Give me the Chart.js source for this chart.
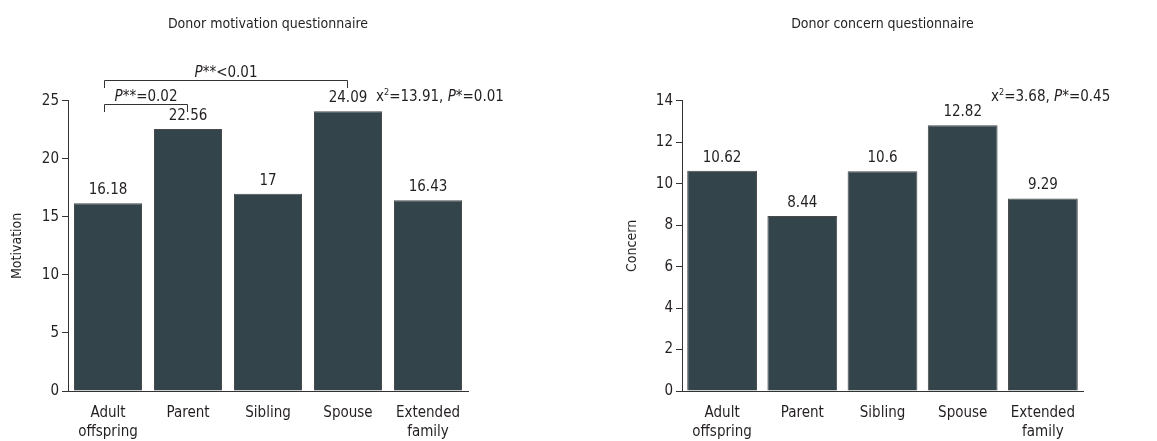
<!DOCTYPE html>
<html>
<head>
<meta charset="utf-8">
<script src="https://cdn.jsdelivr.net/npm/chart.js@4/dist/chart.umd.min.js"></script>
<style>
  body { margin:0; background:#fff; }
  #wrap { position:relative; width:1157px; height:441px; }
  #c1 { position:absolute; left:0; top:0; }
  #c2 { position:absolute; left:578px; top:0; }
</style>
</head>
<body>
<div id="wrap">
  <canvas id="c1" width="578" height="441"></canvas>
  <canvas id="c2" width="579" height="441"></canvas>
</div>
<script>
// data
const groups = [['Adult','offspring'], 'Parent', 'Sibling', 'Spouse', ['Extended','family']];
const motivation = [16.18, 22.56, 17, 24.09, 16.43];
const motivationLabels = ['16.18', '22.56', '17', '24.09', '16.43'];
const concern = [10.62, 8.44, 10.6, 12.82, 9.29];
const concernLabels = ['10.62', '8.44', '10.6', '12.82', '9.29'];
// comparisons: from/to category index, label, height in axis units
const motivationPairs = [
  { from: 0, to: 1, p: '=0.02', y: 24.75, drop: 0.7 },
  { from: 0, to: 3, p: '<0.01', y: 26.8, drop: 0.7 }
];
const motivationChi = ['13.91', '0.01'];
const concernChi = ['3.68', '0.45'];

const FONT = "'DejaVu Sans Condensed', 'Liberation Sans Narrow', sans-serif";
const INK = '#231f20';
const BAR = '#33444b';

function drawRuns(ctx, x, y, runs, size) {
  // draws a list of text pieces one after another, left aligned
  ctx.textAlign = 'left';
  ctx.textBaseline = 'alphabetic';
  runs.forEach(function(r){
    var s = r.sup ? size*0.6 : size;
    ctx.font = (r.it ? 'italic ' : '') + s + 'px ' + FONT;
    ctx.fillText(r.t, x, r.sup ? y - size*0.38 : y);
    x += ctx.measureText(r.t).width;
  });
}
function runsWidth(ctx, runs, size) {
  var w = 0;
  runs.forEach(function(r){
    var s = r.sup ? size*0.6 : size;
    ctx.font = (r.it ? 'italic ' : '') + s + 'px ' + FONT;
    w += ctx.measureText(r.t).width;
  });
  return w;
}

const extrasPlugin = {
  id: 'extras',
  afterDatasetsDraw(chart, args, opts) {
    const ctx = chart.ctx;
    const meta = chart.getDatasetMeta(0);
    const xs = chart.scales.x, ys = chart.scales.y;
    ctx.save();
    ctx.fillStyle = INK;
    // value labels over bars
    ctx.font = '15px ' + FONT;
    ctx.textAlign = 'center';
    ctx.textBaseline = 'middle';
    meta.data.forEach(function(bar, i){
      ctx.fillText(opts.labels[i], bar.x, bar.y - 13);
    });
    // brackets
    ctx.strokeStyle = '#333';
    ctx.lineWidth = 1;
    (opts.pairs || []).forEach(function(pr){
      var x1 = Math.round(xs.getPixelForValue(pr.from)) - 3.5;
      var x2 = Math.round(xs.getPixelForValue(pr.to)) - 0.5;
      var yl = Math.round(ys.getPixelForValue(pr.y)) + 0.5;
      var yd = Math.round(ys.getPixelForValue(pr.y - pr.drop));
      ctx.beginPath();
      ctx.moveTo(x1, yd); ctx.lineTo(x1, yl); ctx.lineTo(x2, yl); ctx.lineTo(x2, yd);
      ctx.stroke();
      var runs = [{t:'P', it:true}, {t:'**' + pr.p}];
      var w = runsWidth(ctx, runs, 15);
      drawRuns(ctx, (x1 + x2)/2 - w/2, yl - 4, runs, 15);
    });
    // chi-square note
    var chi = [{t:'x'}, {t:'2', sup:true}, {t:'=' + opts.chi[0] + ', '}, {t:'P', it:true}, {t:'*=' + opts.chi[1]}];
    drawRuns(ctx, chart.chartArea.right - 92, chart.chartArea.top, chi, 15);
    ctx.restore();
  }
};

function makeChart(id, values, labels, title, ytitle, ymax, step, yTitlePad, yWidth, padRight, barPct, pairs, chi) {
  return new Chart(document.getElementById(id), {
    type: 'bar',
    data: {
      labels: groups,
      datasets: [{
        data: values,
        backgroundColor: BAR,
        borderColor: '#4a4a4a',
        borderWidth: 1,
        barPercentage: barPct,
        categoryPercentage: 1
      }]
    },
    options: {
      responsive: false,
      animation: false,
      devicePixelRatio: 1,
      layout: { padding: { left: 0, right: padRight, top: 0, bottom: 0 } },
      plugins: {
        legend: { display: false },
        tooltip: { enabled: false },
        title: {
          display: true,
          text: title,
          fullSize: false,
          color: INK,
          font: { family: FONT, size: 14, weight: 'normal' },
          padding: { top: 16, bottom: 68 }
        },
        extras: { labels: labels, pairs: pairs, chi: chi }
      },
      scales: {
        x: {
          grid: { display: false, drawTicks: false },
          border: { display: true, color: '#333', width: 1 },
          ticks: {
            color: INK, padding: 12, maxRotation: 0, autoSkip: false,
            font: { family: FONT, size: 15, lineHeight: 1.3 }
          },
          afterFit: function(s){ s.height = 50; }
        },
        y: {
          min: 0, max: ymax,
          grid: { display: true, drawOnChartArea: false, drawTicks: true, tickLength: 6, color: '#333' },
          border: { display: true, color: '#333', width: 1 },
          ticks: {
            stepSize: step, color: INK, padding: 3,
            font: { family: FONT, size: 15 }
          },
          title: {
            display: true, text: ytitle, color: INK,
            font: { family: FONT, size: 14 },
            padding: { top: yTitlePad, bottom: 0 }
          },
          afterFit: function(s){ s.width = yWidth; }
        }
      }
    },
    plugins: [extrasPlugin]
  });
}

makeChart('c1', motivation, motivationLabels, 'Donor motivation questionnaire', 'Motivation',
  25, 5, 9, 68, 110, 0.85, motivationPairs, motivationChi);
makeChart('c2', concern, concernLabels, 'Donor concern questionnaire', 'Concern',
  14, 2, 46, 104, 74, 0.87, [], concernChi);
</script>
</body>
</html>
